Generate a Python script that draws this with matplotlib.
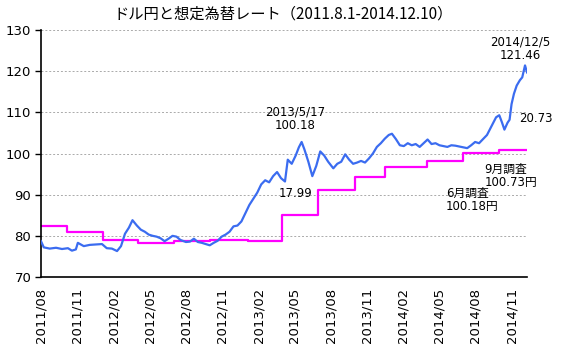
import pandas as pd
import numpy as np
import matplotlib.pyplot as plt
import matplotlib.dates as mdates

# ドル円（読み取り値）
usdjpy_dates = [
    "2011-08-01", "2011-08-08", "2011-08-23", "2011-09-08", "2011-09-23", "2011-10-08",
    "2011-10-18", "2011-10-28", "2011-11-02", "2011-11-17", "2011-12-02", "2011-12-17",
    "2012-01-02", "2012-01-14", "2012-01-27", "2012-02-09", "2012-02-19", "2012-02-29",
    "2012-03-10", "2012-03-19", "2012-03-30", "2012-04-09", "2012-04-19", "2012-04-29",
    "2012-05-09", "2012-05-19", "2012-05-29", "2012-06-08", "2012-06-18", "2012-06-28",
    "2012-07-08", "2012-07-18", "2012-08-01", "2012-08-11", "2012-08-21", "2012-08-31",
    "2012-09-10", "2012-09-20", "2012-09-30", "2012-10-10", "2012-10-20", "2012-10-30",
    "2012-11-09", "2012-11-19", "2012-11-29", "2012-12-09", "2012-12-19", "2012-12-29",
    "2013-01-08", "2013-01-18", "2013-01-28", "2013-02-07", "2013-02-17", "2013-02-27",
    "2013-03-09", "2013-03-19", "2013-03-29", "2013-04-08", "2013-04-15", "2013-04-25",
    "2013-05-05", "2013-05-13", "2013-05-20", "2013-05-27", "2013-06-06", "2013-06-16",
    "2013-06-26", "2013-07-06", "2013-07-16", "2013-07-26", "2013-08-08", "2013-08-18",
    "2013-08-28", "2013-09-07", "2013-09-17", "2013-09-27", "2013-10-07", "2013-10-17",
    "2013-10-27", "2013-11-06", "2013-11-16", "2013-11-26", "2013-12-06", "2013-12-16",
    "2013-12-26", "2014-01-03", "2014-01-13", "2014-01-23", "2014-02-02", "2014-02-12",
    "2014-02-22", "2014-03-04", "2014-03-14", "2014-03-24", "2014-04-03", "2014-04-13",
    "2014-04-23", "2014-05-03", "2014-05-13", "2014-05-23", "2014-06-02", "2014-06-12",
    "2014-06-22", "2014-07-02", "2014-07-12", "2014-07-22", "2014-08-01", "2014-08-11",
    "2014-08-21", "2014-08-31", "2014-09-08", "2014-09-16", "2014-09-23", "2014-10-01",
    "2014-10-08", "2014-10-14", "2014-10-22", "2014-10-27", "2014-11-01", "2014-11-07",
    "2014-11-14", "2014-11-22", "2014-11-28", "2014-12-05", "2014-12-10",
]
usdjpy_values = [
    78.7, 77.2, 76.9, 77.1, 76.8, 77.0,
    76.4, 76.7, 78.3, 77.5, 77.8, 77.9,
    78.0, 77.0, 76.9, 76.3, 77.5, 80.5,
    82.0, 83.8, 82.5, 81.5, 81.0, 80.3,
    80.0, 79.8, 79.4, 78.7, 79.3, 80.0,
    79.8, 79.0, 78.5, 78.6, 79.3, 78.5,
    78.3, 78.0, 77.7, 78.3, 78.8, 79.8,
    80.3, 81.0, 82.3, 82.5, 83.5, 85.5,
    87.5, 89.0, 90.5, 92.5, 93.5, 93.0,
    94.5, 95.5, 94.0, 93.2, 98.5, 97.5,
    99.5, 101.5, 102.8, 101.0, 98.0, 94.5,
    97.0, 100.5, 99.5, 98.0, 96.4, 97.5,
    98.0, 99.8, 98.5, 97.5, 97.8, 98.2,
    97.8, 98.8, 100.0, 101.6, 102.5, 103.6,
    104.5, 104.8, 103.5, 102.0, 101.8, 102.5,
    102.0, 102.3, 101.6, 102.5, 103.4, 102.3,
    102.5, 102.0, 101.8, 101.6, 102.0, 101.9,
    101.7, 101.5, 101.3, 102.0, 102.8, 102.5,
    103.5, 104.5, 106.0, 107.5, 108.8, 109.3,
    107.5, 105.8, 107.5, 108.2, 112.0, 114.5,
    116.5, 117.8, 118.5, 121.4, 119.7,
]

# 想定為替レート（短観、公表日ごと）
assumed_dates = [
    "2011-08-01", "2011-10-05", "2012-01-05", "2012-04-02", "2012-07-02", "2012-10-01",
    "2013-01-04", "2013-04-01", "2013-07-01", "2013-10-01", "2013-12-16", "2014-04-01",
    "2014-07-01", "2014-10-01",
]
assumed_values = [
    82.5, 80.9, 79.1, 78.2, 78.8, 79.1,
    78.8, 85.1, 91.2, 94.4, 96.8, 98.2,
    100.18, 100.73,
]
end_date = "2014-12-10"

title = "ドル円と想定為替レート（2011.8.1-2014.12.10）"

blue = "#3b6cf0"
magenta = "#ff00ff"

fig = plt.figure(figsize=(5.66, 3.58), dpi=100)
ax = fig.add_axes([41/566, 81/358, 486/566, 247/358])

x = pd.to_datetime(usdjpy_dates)
ax.plot(x, usdjpy_values, color=blue, linewidth=1.6, zorder=3)

sx = list(pd.to_datetime(assumed_dates)) + [pd.Timestamp(end_date)]
sy = assumed_values + [assumed_values[-1]]
ax.step(sx, sy, where="post", color=magenta, linewidth=1.6, zorder=2)

ax.set_xlim(pd.Timestamp("2011-08-01"), pd.Timestamp(end_date))
ax.set_ylim(70, 130)
ax.set_yticks(np.arange(70, 131, 10))
ax.yaxis.grid(True, color="#aaaaaa", linestyle=(0, (2, 2)), linewidth=0.7)
ax.set_axisbelow(True)

ax.xaxis.set_major_locator(mdates.MonthLocator(bymonth=[2, 5, 8, 11]))
ax.xaxis.set_major_formatter(mdates.DateFormatter("%Y/%m"))
for lab in ax.get_xticklabels():
    lab.set_rotation(90)

ax.tick_params(axis="y", labelsize=9.5, length=4, width=1, direction="out", pad=3)
ax.tick_params(axis="x", labelsize=9.5, length=0, pad=8)

for s in ["top", "right"]:
    ax.spines[s].set_visible(False)
for s in ["left", "bottom"]:
    ax.spines[s].set_linewidth(1.2)

# 注記
fam = ["DejaVu Sans", "Noto Sans CJK JP"]
ax.text(pd.Timestamp("2013-05-03"), 108.4, "2013/5/17\n100.18", ha="center", va="center",
        fontsize=8.5, family=fam, linespacing=1.1)
ax.text(pd.Timestamp("2013-05-05"), 90.4, "17.99", ha="center", va="center",
        fontsize=8.5, family=fam)
ax.text(pd.Timestamp("2014-11-22"), 125.5, "2014/12/5\n121.46", ha="center", va="center",
        fontsize=8.5, family=fam, linespacing=1.1)
ax.text(pd.Timestamp("2015-01-02"), 108.6, "20.73", ha="center", va="center",
        fontsize=8.5, family=fam)
ax.text(pd.Timestamp("2014-08-25"), 94.5, "9月調査\n100.73円", ha="left", va="center",
        fontsize=8.5, family=fam, linespacing=1.0)
ax.text(pd.Timestamp("2014-05-19"), 88.7, "6月調査\n100.18円", ha="left", va="center",
        fontsize=8.5, family=fam, linespacing=1.0)

fig.text(283/566, 1 - 14/358, title, ha="center", va="center", fontsize=11,
         family=["Noto Sans CJK JP", "DejaVu Sans"])

fig.savefig("out.png", dpi=100)
